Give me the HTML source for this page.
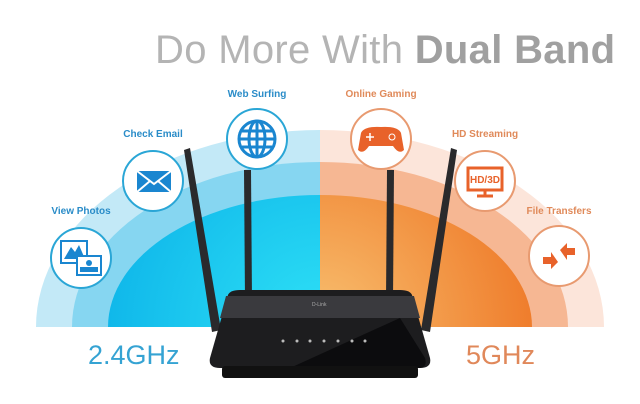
<!DOCTYPE html>
<html><head><style>
html,body{margin:0;padding:0;background:#fff;width:640px;height:404px;overflow:hidden;position:relative}
svg{display:block;position:absolute;left:0;top:0}
text{font-family:"Liberation Sans",sans-serif}
</style></head><body>
<svg width="640" height="404" viewBox="0 0 640 404">
<defs>
<radialGradient id="bi" cx="320" cy="327" r="212" gradientUnits="userSpaceOnUse">
<stop offset="0" stop-color="#2ee0f6"/><stop offset="1" stop-color="#10b8ea"/></radialGradient>
<radialGradient id="oi" cx="320" cy="327" r="212" gradientUnits="userSpaceOnUse">
<stop offset="0" stop-color="#f8c070"/><stop offset="1" stop-color="#ef7d2c"/></radialGradient>
<clipPath id="L"><rect x="0" y="0" width="320" height="404"/></clipPath>
<clipPath id="R"><rect x="320" y="0" width="320" height="404"/></clipPath>
</defs>
<g clip-path="url(#L)">
<ellipse cx="320" cy="327" rx="284" ry="197" fill="#c3e9f7"/>
<ellipse cx="320" cy="327" rx="248" ry="165" fill="#86d6f1"/>
<ellipse cx="320" cy="327" rx="212" ry="132" fill="url(#bi)"/>
</g>
<g clip-path="url(#R)">
<ellipse cx="320" cy="327" rx="284" ry="197" fill="#fce5da"/>
<ellipse cx="320" cy="327" rx="248" ry="165" fill="#f6b793"/>
<ellipse cx="320" cy="327" rx="212" ry="132" fill="url(#oi)"/>
</g>
<rect x="0" y="327" width="640" height="77" fill="#fff"/>
<text x="155" y="63" font-size="40" fill="#b4b4b4" textLength="460" lengthAdjust="spacing">Do More With <tspan font-weight="bold" fill="#a0a0a0">Dual Band</tspan></text>

<g font-size="10" font-weight="bold">
<text x="257" y="97" text-anchor="middle" fill="#2a8cc8">Web Surfing</text>
<text x="153" y="137" text-anchor="middle" fill="#2a8cc8">Check Email</text>
<text x="81" y="214" text-anchor="middle" fill="#2a8cc8">View Photos</text>
<text x="381" y="97" text-anchor="middle" fill="#e08a5a">Online Gaming</text>
<text x="485" y="137" text-anchor="middle" fill="#e08a5a">HD Streaming</text>
<text x="559" y="214" text-anchor="middle" fill="#e08a5a">File Transfers</text>
</g>
<g stroke-width="2" fill="#fff">
<circle cx="257" cy="139" r="30" stroke="#2aa6d6"/>
<circle cx="153" cy="181" r="30" stroke="#2aa6d6"/>
<circle cx="81" cy="258" r="30" stroke="#2aa6d6"/>
<circle cx="381" cy="139" r="30" stroke="#e89a70"/>
<circle cx="485" cy="181" r="30" stroke="#e89a70"/>
<circle cx="559" cy="256" r="30" stroke="#e89a70"/>
</g>
<g stroke="#1a86d0" fill="none" stroke-width="3">
<circle cx="257" cy="139" r="18"/><ellipse cx="257" cy="139" rx="8" ry="18"/>
<line x1="239" y1="139" x2="275" y2="139"/><line x1="242" y1="131" x2="272" y2="131"/><line x1="242" y1="147" x2="272" y2="147"/><line x1="257" y1="121" x2="257" y2="157"/>
</g>
<rect x="137" y="171" width="34" height="21" fill="#1a86d0"/>
<path d="M137 171 L154 184 L171 171 M137 192 L150 181 M171 192 L158 181" stroke="#fff" stroke-width="2" fill="none"/>
<rect x="61" y="241" width="26" height="22" fill="#fff" stroke="#1a86d0" stroke-width="2"/>
<path d="M64 259 L71 247 L75 252 L79 245 L85 259Z" fill="#1a86d0"/>
<rect x="77" y="256" width="24" height="19" fill="#fff" stroke="#1a86d0" stroke-width="2"/>
<circle cx="89" cy="263" r="3" fill="#1a86d0"/><rect x="80" y="267" width="18" height="5" fill="#1a86d0"/>
<path d="M361 133 Q364 126 381 127 Q398 126 401 133 L404 150 Q399 155 393 146 L369 146 Q363 155 358 150Z" fill="#e8622a"/>
<path d="M370 133 v8 M366 137 h8" stroke="#fff" stroke-width="1.5"/>
<circle cx="392" cy="137" r="3" fill="none" stroke="#fff" stroke-width="1"/>
<rect x="468" y="168" width="34" height="22" fill="none" stroke="#e8622a" stroke-width="3"/>
<text x="485" y="183" text-anchor="middle" font-size="10" font-weight="bold" fill="#e8622a">HD/3D</text>
<path d="M485 190 v5 M477 196 h16" stroke="#e8622a" stroke-width="3"/>
<path d="M560 250 L567 243 L567 248 L575 248 L575 255 L567 255 L567 260Z" fill="#e8622a"/>
<path d="M558 262 L551 269 L551 264 L543 264 L543 257 L551 257 L551 252Z" fill="#e8622a"/>

<g fill="#2a2a2c">
<polygon points="184,150 190,148 221,330 212,332"/>
<polygon points="244,170 251,170 252,300 245,300"/>
<polygon points="387,170 394,170 393,300 386,300"/>
<polygon points="451,148 457,150 430,332 421,330"/>
</g>
<path d="M228 295 Q230 290 240 290 L400 290 Q410 290 412 295 L430 358 Q432 368 420 368 L220 368 Q208 368 210 358Z" fill="#1d1d1f"/>
<path d="M226 296 L414 296 L420 318 L220 318Z" fill="#3a3a3e"/>
<path d="M290 368 L400 318 L425 358 Q428 368 418 368Z" fill="#0c0c0e"/>
<rect x="222" y="366" width="196" height="12" rx="3" fill="#111"/>
<text x="312" y="306" font-size="5" fill="#aaa">D-Link</text>
<g fill="#bbb"><circle cx="283" cy="341" r="1.5"/><circle cx="297" cy="341" r="1.5"/><circle cx="310" cy="341" r="1.5"/><circle cx="324" cy="341" r="1.5"/><circle cx="338" cy="341" r="1.5"/><circle cx="352" cy="341" r="1.5"/><circle cx="365" cy="341" r="1.5"/></g>

<text x="88" y="364" font-size="27" fill="#35a3d3">2.4GHz</text>
<text x="466" y="364" font-size="27" fill="#e0885a">5GHz</text>
</svg>
</body></html>
